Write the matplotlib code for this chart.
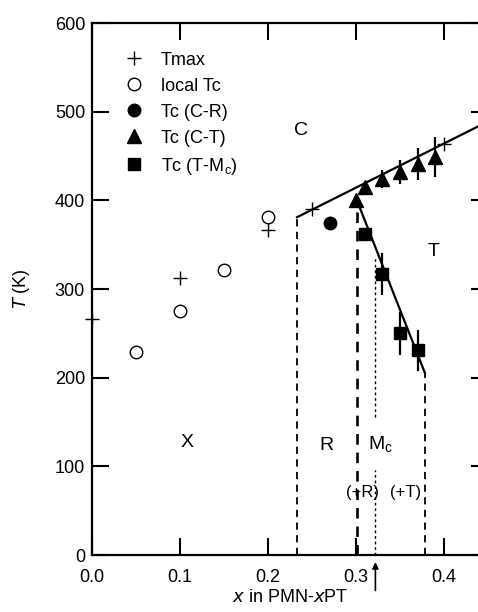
import matplotlib.pyplot as plt

plt.rcParams['font.family'] = ['Liberation Sans', 'DejaVu Sans']

# Tmax
tmax_x = [0.0, 0.1, 0.2, 0.25, 0.4]
tmax_T = [266, 312, 367, 390, 464]

# local Tc
local_x = [0.05, 0.1, 0.15, 0.2]
local_T = [229, 275, 321, 381]

# Tc (C-R)
cr_x = [0.27]
cr_T = [374]

# Tc (C-T)
ct_x = [0.30, 0.31, 0.33, 0.35, 0.37, 0.39]
ct_T = [400, 415, 424, 432, 441, 449]
ct_err = [0, 5, 10, 14, 18, 23]

# Tc (T-Mc)
tm_x = [0.31, 0.33, 0.35, 0.37]
tm_T = [362, 317, 250, 231]
tm_err = [0, 24, 24, 23]

# phase boundary lines
upper_x = [0.233, 0.45]
upper_T = [381, 489]
lower_x = [0.301, 0.378]
lower_T = [400, 206]

# dashed vertical boundaries (x, top T)
dash_x = [0.233, 0.301, 0.378]
dash_top = [381, 400, 206]
dash_lw = [1.3, 1.9, 1.3]

# dotted Mc boundary
dot_x = 0.322
dot_segments = [(0, 96), (156, 336)]

fig = plt.figure(figsize=(4.78, 6.12), dpi=100)
ax = fig.add_axes([0.1925, 0.0931, 1.021 - 0.1925, 0.9624 - 0.0931])

for xv, top, lw in zip(dash_x, dash_top, dash_lw):
    ax.plot([xv, xv], [0, top], color='black', linestyle=(0, (4, 3)), linewidth=lw)
for lo, hi in dot_segments:
    ax.plot([dot_x, dot_x], [lo, hi], color='black', linestyle=(0, (2, 2)), linewidth=1.0)

ax.plot(upper_x, upper_T, color='black', linewidth=1.6)
ax.plot(lower_x, lower_T, color='black', linewidth=1.6)

# error bars drawn apart so the legend keeps plain markers
ax.errorbar(ct_x, ct_T, yerr=ct_err, fmt='none', ecolor='black', elinewidth=1.6, capsize=0)
ax.errorbar(tm_x, tm_T, yerr=tm_err, fmt='none', ecolor='black', elinewidth=1.6, capsize=0)

ax.plot(tmax_x, tmax_T, '+', color='black', markersize=10, markeredgewidth=1.0,
        linestyle='none', label='Tmax', clip_on=False)
ax.plot(local_x, local_T, 'o', markerfacecolor='white', markeredgecolor='black',
        markersize=9, markeredgewidth=1.0, linestyle='none', label='local Tc')
ax.plot(cr_x, cr_T, 'o', color='black', markersize=9, linestyle='none', label='Tc (C-R)')
ax.plot(ct_x, ct_T, '^', color='black', markersize=9.5, linestyle='none', label='Tc (C-T)')
ax.plot(tm_x, tm_T, 's', color='black', markersize=9, linestyle='none',
        label='Tc (T-M$_\\mathregular{c}$)')

# phase labels
fs_lab = 14
ax.text(0.238, 479, 'C', fontsize=fs_lab, ha='center', va='center')
ax.text(0.388, 342, 'T', fontsize=fs_lab, ha='center', va='center')
ax.text(0.108, 127, 'X', fontsize=fs_lab, ha='center', va='center')
ax.text(0.266, 124, 'R', fontsize=fs_lab, ha='center', va='center')
ax.text(0.328, 124, 'M$_\\mathregular{c}$', fontsize=fs_lab, ha='center', va='center')
ax.text(0.307, 70, '(+R)', fontsize=12, ha='center', va='center')
ax.text(0.356, 70, '(+T)', fontsize=12, ha='center', va='center')

# arrow below the axis at x = 0.322
ax.annotate('', xy=(dot_x, -8), xytext=(dot_x, -40),
            arrowprops=dict(arrowstyle='-|>', color='black', lw=1.2,
                            mutation_scale=9, shrinkA=0, shrinkB=0),
            annotation_clip=False)

ax.set_xlim(0, 0.45)
ax.set_ylim(0, 600)
ax.set_xticks([0.0, 0.1, 0.2, 0.3, 0.4])
ax.set_xticklabels(['0.0', '0.1', '0.2', '0.3', '0.4'])
ax.set_yticks([0, 100, 200, 300, 400, 500, 600])
ax.tick_params(direction='in', length=12, width=1.5, labelsize=13,
               top=True, right=True, pad=5)
ax.tick_params(axis='x', pad=10)
for s in ax.spines.values():
    s.set_linewidth(1.6)

ax.set_xlabel('$\\mathit{x}$ in PMN-$\\mathit{x}$PT', fontsize=13, labelpad=2)
ax.set_ylabel('$\\mathit{T}$ (K)', fontsize=13, labelpad=16)

leg = ax.legend(loc='upper left', bbox_to_anchor=(0.065, 0.96), frameon=False,
                fontsize=13, handlelength=1.0, handletextpad=1.0,
                labelspacing=0.5, borderaxespad=0)

fig.savefig('out.png', dpi=100)
